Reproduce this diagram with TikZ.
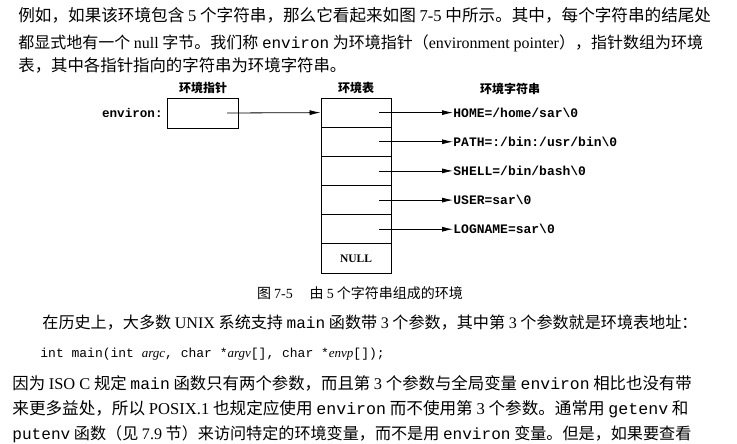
\documentclass[tikz,border=0pt]{standalone}
\usepackage{fontspec}
\setmainfont{Noto Sans CJK SC}
\setmonofont{Liberation Mono}
\newfontfamily\lat{Liberation Serif}
\usetikzlibrary{arrows.meta}

\begin{document}
\begin{tikzpicture}
[
    x=1pt, y=-1pt,
    line width=0.8pt,
    body/.style={anchor=west, inner sep=0pt, font=\fontsize{#1}{#1}\selectfont},
    head/.style={inner sep=0pt, font=\bfseries\fontsize{12}{12}\selectfont},
    cell/.style={draw, minimum width=70pt, minimum height=29.17pt, inner sep=0pt},
    str/.style={anchor=west, inner sep=0pt, font=\ttfamily\bfseries\fontsize{13}{13}\selectfont},
    arr/.style={-{Latex[length=11pt,width=5pt]}},
]
\fill[white] (0,0) rectangle (737,444);
\useasboundingbox (0,0) rectangle (737,444);

\node[body=16.6] (line1) at (18,15)
{例如，如果该环境包含 {\lat 5} 个字符串，那么它看起来如图 {\lat 7-5} 中所示。其中，每个字符串的结尾处};
\node[body=16] (line2) at (18,43)
{都显式地有一个 {\lat null} 字节。我们称 {\ttfamily environ} 为环境指针（{\lat environment pointer}），指针数组为环境};
\node[body=16.4] (line3) at (18,65)
{表，其中各指针指向的字符串为环境字符串。};

\node[head] (hptr) at (203,88) {环境指针};
\node[head] (htab) at (356,88) {环境表};
\node[head] (hstr) at (510,89) {环境字符串};

\node[anchor=east, inner sep=0pt, font=\ttfamily\bfseries\fontsize{12.6}{12.6}\selectfont] (envlabel) at (163,113) {environ:};
\node[draw, minimum width=71pt, minimum height=30pt] (ptr) at (203,113) {};
\coordinate (ptrout) at (227,113);

\node[cell] (row1) at (356,112.6) {};
\node[cell] (row2) at (356,141.75) {};
\node[cell] (row3) at (356,170.9) {};
\node[cell] (row4) at (356,200.1) {};
\node[cell] (row5) at (356,229.25) {};
\node[cell, font=\lat\bfseries\fontsize{11.5}{11.5}\selectfont] (row6) at (356,258.4) {NULL};

\coordinate (p1) at (379,112.6);
\coordinate (p2) at (379,141.75);
\coordinate (p3) at (379,170.9);
\coordinate (p4) at (379,200.1);
\coordinate (p5) at (379,229.25);

\node[str] (str1) at (453,112.6) {HOME=/home/sar\textbackslash 0};
\node[str] (str2) at (453,141.75) {PATH=:/bin:/usr/bin\textbackslash 0};
\node[str] (str3) at (453,170.9) {SHELL=/bin/bash\textbackslash 0};
\node[str] (str4) at (453,200.1) {USER=sar\textbackslash 0};
\node[str] (str5) at (453,229.25) {LOGNAME=sar\textbackslash 0};

\draw[arr] (ptrout) -- (row1.west);
\draw[arr] (p1) -- (str1.west);
\draw[arr] (p2) -- (str2.west);
\draw[arr] (p3) -- (str3.west);
\draw[arr] (p4) -- (str4.west);
\draw[arr] (p5) -- (str5.west);

\node[inner sep=0pt, font=\fontsize{14}{14}\selectfont] (caption) at (360,293)
{图 {\lat 7-5}\hspace{1.2em}由 {\lat 5} 个字符串组成的环境};

\node[body=16.1] (line4) at (42,323)
{在历史上，大多数 {\lat UNIX} 系统支持 {\ttfamily main} 函数带 {\lat 3} 个参数，其中第 {\lat 3} 个参数就是环境表地址：};
\node[body=13, font=\ttfamily\fontsize{13}{13}\selectfont] (code) at (40,354)
{int main(int {\lat\itshape argc}, char *{\lat\itshape argv}[], char *{\lat\itshape envp}[]);};
\node[body=16.4] (line5) at (12,383)
{因为 {\lat ISO C} 规定 {\ttfamily main} 函数只有两个参数，而且第 {\lat 3} 个参数与全局变量 {\ttfamily environ} 相比也没有带};
\node[body=16.6] (line6) at (12,409)
{来更多益处，所以 {\lat POSIX.1} 也规定应使用 {\ttfamily environ} 而不使用第 {\lat 3} 个参数。通常用 {\ttfamily getenv} 和};
\node[body=16.1] (line7) at (12,434)
{{\ttfamily putenv} 函数（见 {\lat 7.9} 节）来访问特定的环境变量，而不是用 {\ttfamily environ} 变量。但是，如果要查看};
\end{tikzpicture}
\end{document}
